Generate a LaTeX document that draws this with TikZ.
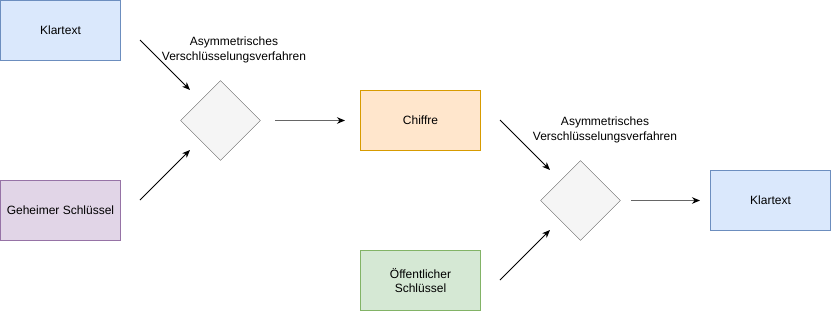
\documentclass[tikz,border=0pt]{standalone}
\usepackage{fontspec}
\setmainfont{Liberation Sans}
\usetikzlibrary{shapes.geometric,arrows.meta}
\definecolor{blaufill}{HTML}{DAE8FC}\definecolor{blaurand}{HTML}{6C8EBF}
\definecolor{lilafill}{HTML}{E1D5E7}\definecolor{lilarand}{HTML}{9673A6}
\definecolor{orangefill}{HTML}{FFE6CC}\definecolor{orangerand}{HTML}{D79B00}
\definecolor{gruenfill}{HTML}{D5E8D4}\definecolor{gruenrand}{HTML}{82B366}
\definecolor{grau}{HTML}{F5F5F5}\definecolor{graurand}{HTML}{666666}
\tikzset{
	kasten/.style={draw,minimum width=120pt,minimum height=60pt,inner sep=0pt,align=center,font=\fontsize{12pt}{14pt}\selectfont},
	raute/.style={diamond,draw=graurand,fill=grau,minimum width=80pt,minimum height=80pt,inner sep=0pt},
	pfeil/.style={line width=0.9pt,-{Stealth[length=8pt,width=6.5pt,color=black]}},
	beschriftung/.style={align=center,font=\fontsize{12pt}{15pt}\selectfont}
}
\begin{document}
\begin{tikzpicture}[x=1pt,y=-1pt]
	\useasboundingbox (0,0) rectangle (831,311);
	\node[kasten,fill=blaufill,draw=blaurand] (klar1) at (60.5,30.5) {Klartext};
	\node[kasten,fill=lilafill,draw=lilarand] (geheim) at (60.5,210.5) {Geheimer Schlüssel};
	\node[raute] (verf1) at (220.5,120.5) {};
	\node[beschriftung] (text1) at (234,50) {Asymmetrisches\\Verschlüsselungsverfahren};
	\node[kasten,fill=orangefill,draw=orangerand] (chiffre) at (420.5,120.5) {Chiffre};
	\node[kasten,fill=gruenfill,draw=gruenrand] (oeffentlich) at (420.5,280.5) {Öffentlicher\\Schlüssel};
	\node[raute] (verf2) at (580.5,200.5) {};
	\node[beschriftung] (text2) at (605,130) {Asymmetrisches\\Verschlüsselungsverfahren};
	\node[kasten,fill=blaufill,draw=blaurand] (klar2) at (770.5,200.5) {Klartext};
	% freie Pfeilenden
	\coordinate (a1) at (140,40); \coordinate (b1) at (190,90);
	\coordinate (a2) at (140,200); \coordinate (b2) at (190,150);
	\coordinate (a3) at (275,120.5); \coordinate (b3) at (345,120.5);
	\coordinate (a4) at (500,120); \coordinate (b4) at (550,170);
	\coordinate (a5) at (500,280); \coordinate (b5) at (550,230);
	\coordinate (a6) at (631,200.5); \coordinate (b6) at (700,200.5);
	\draw[pfeil] (a1) -- (b1);
	\draw[pfeil] (a2) -- (b2);
	\draw[pfeil,draw=graurand] (a3) -- (b3);
	\draw[pfeil] (a4) -- (b4);
	\draw[pfeil] (a5) -- (b5);
	\draw[pfeil,draw=graurand] (a6) -- (b6);
\end{tikzpicture}
\end{document}
